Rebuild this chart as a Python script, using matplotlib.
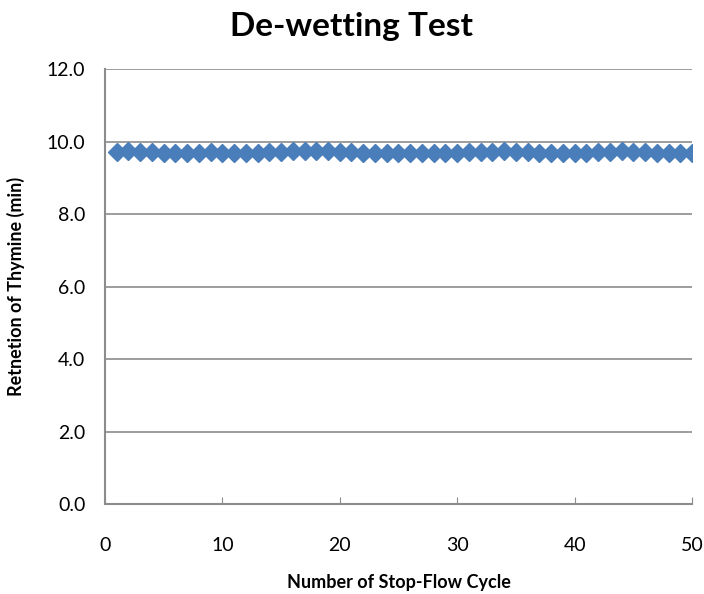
import matplotlib
matplotlib.use('Agg')
import matplotlib.pyplot as plt

plt.rcParams['font.family'] = ['Lato', 'DejaVu Sans']

cycles = list(range(1, 51))
retention = [9.72, 9.73, 9.72, 9.71, 9.69, 9.68, 9.69, 9.70, 9.71, 9.70,
             9.69, 9.70, 9.70, 9.71, 9.72, 9.73, 9.74, 9.75, 9.73, 9.72,
             9.71, 9.70, 9.70, 9.69, 9.69, 9.70, 9.69, 9.69, 9.70, 9.70,
             9.71, 9.72, 9.72, 9.73, 9.72, 9.71, 9.70, 9.70, 9.69, 9.69,
             9.70, 9.71, 9.72, 9.73, 9.72, 9.71, 9.70, 9.69, 9.69, 9.68]
xticks = [0, 10, 20, 30, 40, 50]
yticks = [0, 2, 4, 6, 8, 10, 12]

fig = plt.figure(figsize=(7.04, 5.94), dpi=100)
ax = fig.add_axes([0.149, 0.1515, 0.834, 0.732])

ax.plot(cycles, retention, linestyle='none', marker='D', markersize=9,
        color='#4A7EBB', markeredgecolor='#4A7EBB', zorder=3)

ax.set_xlim(0, 50)
ax.set_ylim(0, 12)
ax.set_xticks(xticks)
ax.set_yticks(yticks)
ax.set_yticklabels(['%.1f' % v for v in yticks])
ax.grid(axis='y', color='#8C8C8C', linewidth=1.2)
ax.set_axisbelow(True)

for s in ['top', 'right']:
    ax.spines[s].set_visible(False)
for s in ['left', 'bottom']:
    ax.spines[s].set_color('#8C8C8C')
    ax.spines[s].set_linewidth(1.5)

ax.tick_params(axis='x', direction='in', length=5, color='#8C8C8C', pad=24, labelsize=14)
ax.tick_params(axis='y', length=0, pad=14, labelsize=14)

ax.set_xlabel('Number of Stop-Flow Cycle', fontsize=13, fontweight='bold', labelpad=14)
ax.set_ylabel('Retnetion of Thymine (min)', fontsize=13, fontweight='bold', labelpad=16)
fig.text(0.5, 0.94, 'De-wetting Test', ha='center', va='baseline', fontsize=24, fontweight='bold')

fig.savefig('out.png', dpi=100)
